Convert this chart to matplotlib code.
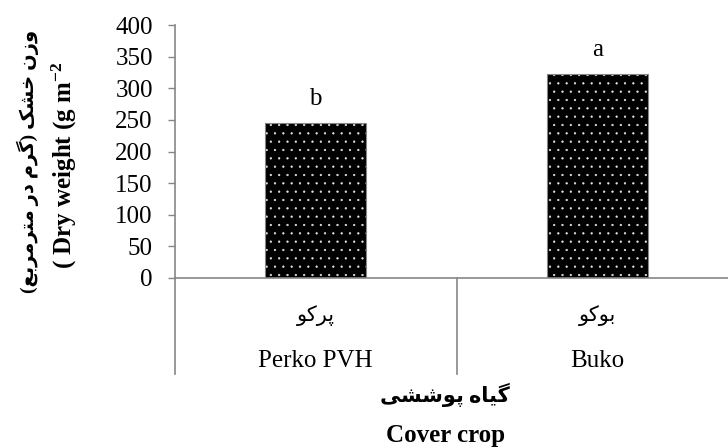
import numpy as np
import matplotlib

matplotlib.use("Agg")
import matplotlib.pyplot as plt
import matplotlib.transforms as mtrans

# ---------------------------------------------------------------------------
# Data
# ---------------------------------------------------------------------------
cats_en = ["Perko PVH", "Buko"]
cats_fa = ["پرکو", "بوکو"]
dry_weight = [245, 322]
letters = ["b", "a"]
y_ticks = [0, 50, 100, 150, 200, 250, 300, 350, 400]

ylabel_fa = "وزن خشک (گرم در مترمربع)"
ylabel_en = r"( Dry weight (g $\mathbf{m^{-2}}$"
xlabel_fa = "گیاه پوششی"
xlabel_en = "Cover crop"

# ---------------------------------------------------------------------------
# Minimal Persian shaping (presentation forms + visual order)
# ---------------------------------------------------------------------------
_FORMS = {
    "ا": ("\uFE8D", "\uFE8E", None, None),
    "ب": ("\uFE8F", "\uFE90", "\uFE91", "\uFE92"),
    "پ": ("\uFB56", "\uFB57", "\uFB58", "\uFB59"),
    "ت": ("\uFE95", "\uFE96", "\uFE97", "\uFE98"),
    "خ": ("\uFEA5", "\uFEA6", "\uFEA7", "\uFEA8"),
    "د": ("\uFEA9", "\uFEAA", None, None),
    "ر": ("\uFEAD", "\uFEAE", None, None),
    "ز": ("\uFEAF", "\uFEB0", None, None),
    "ش": ("\uFEB5", "\uFEB6", "\uFEB7", "\uFEB8"),
    "ع": ("\uFEC9", "\uFECA", "\uFECB", "\uFECC"),
    "ک": ("\uFB8E", "\uFB8F", "\uFB90", "\uFB91"),
    "گ": ("\uFB92", "\uFB93", "\uFB94", "\uFB95"),
    "م": ("\uFEE1", "\uFEE2", "\uFEE3", "\uFEE4"),
    "ن": ("\uFEE5", "\uFEE6", "\uFEE7", "\uFEE8"),
    "ه": ("\uFEE9", "\uFEEA", "\uFEEB", "\uFEEC"),
    "و": ("\uFEED", "\uFEEE", None, None),
    "ی": ("\uFBFC", "\uFBFD", "\uFBFE", "\uFBFF"),
}


def fa(text):
    out = []
    for i, ch in enumerate(text):
        if ch not in _FORMS:
            out.append(ch)
            continue
        prev = text[i - 1] if i > 0 else ""
        nxt = text[i + 1] if i + 1 < len(text) else ""
        j_prev = prev in _FORMS and _FORMS[prev][2] is not None
        j_next = _FORMS[ch][2] is not None and nxt in _FORMS
        iso, fin, ini, med = _FORMS[ch]
        if j_prev and j_next:
            out.append(med)
        elif j_prev:
            out.append(fin)
        elif j_next:
            out.append(ini)
        else:
            out.append(iso)
    mirror = {"(": ")", ")": "("}
    return "".join(mirror.get(c, c) for c in reversed(out))


# ---------------------------------------------------------------------------
# Style
# ---------------------------------------------------------------------------
FAM = ["Liberation Serif", "DejaVu Sans"]
plt.rcParams["font.family"] = FAM
plt.rcParams["mathtext.fontset"] = "custom"
plt.rcParams["mathtext.rm"] = "Liberation Serif"
plt.rcParams["mathtext.bf"] = "Liberation Serif:bold"
plt.rcParams["hatch.linewidth"] = 0.4
GRAY = "#868686"
FS = 18
FS_FA = 15

W, H = 728, 448
fig = plt.figure(figsize=(W / 100, H / 100), dpi=100, facecolor="white")
ax = fig.add_axes([175 / W, (H - 278) / H, 563 / W, 253 / H])

x = np.arange(len(cats_en))
bw = 0.36
ax.bar(x, dry_weight, bw, color="black", edgecolor="#e6e6e6", hatch="..",
       linewidth=0, zorder=2)
ax.bar(x, dry_weight, bw, fill=False, edgecolor=GRAY, linewidth=0.8, zorder=3)

for xi, v, lab in zip(x, dry_weight, letters):
    ax.annotate(lab, xy=(xi, v), xytext=(0, 13), textcoords="offset points",
                ha="center", va="baseline", fontsize=FS)

ax.set_xlim(-0.5, len(cats_en) - 0.5)
ax.set_ylim(0, 400)
ax.set_yticks(y_ticks)
ax.set_xticks([])
for s in ("top", "right"):
    ax.spines[s].set_visible(False)
for s in ("left", "bottom"):
    ax.spines[s].set_color(GRAY)
    ax.spines[s].set_linewidth(1.2)
ax.tick_params(axis="y", direction="out", length=5, width=1.0, color=GRAY,
               pad=11, labelsize=FS)

# category separators running below the axis
tr = mtrans.blended_transform_factory(ax.transData, ax.transAxes)
drop = (374 - 278) / 253
for xb in np.arange(len(cats_en)) - 0.5:
    ax.plot([xb, xb], [0, -drop], color=GRAY, lw=1.2, transform=tr,
            clip_on=False)

for xi, en, f in zip(x, cats_en, cats_fa):
    ax.text(xi, -(316 - 278) / 253, fa(f), transform=tr, ha="center",
            va="center", fontsize=FS_FA)
    ax.text(xi, -(367 - 278) / 253, en, transform=tr, ha="center",
            va="baseline", fontsize=FS)

# axis titles
fig.text(445 / W, 1 - 395 / H, fa(xlabel_fa), ha="center", va="center",
         fontsize=FS_FA, fontweight="bold")
fig.text(446 / W, 1 - 442 / H, xlabel_en, ha="center", va="baseline",
         fontsize=FS, fontweight="bold")
fig.text(28 / W, 1 - 161 / H, fa(ylabel_fa), ha="center", va="center",
         rotation=90, fontsize=FS_FA - 1, fontweight="bold")
fig.text(64 / W, 1 - 165 / H, ylabel_en, ha="center", va="center",
         rotation=90, fontsize=FS, fontweight="bold")

fig.savefig("out.png", dpi=100, facecolor="white")
